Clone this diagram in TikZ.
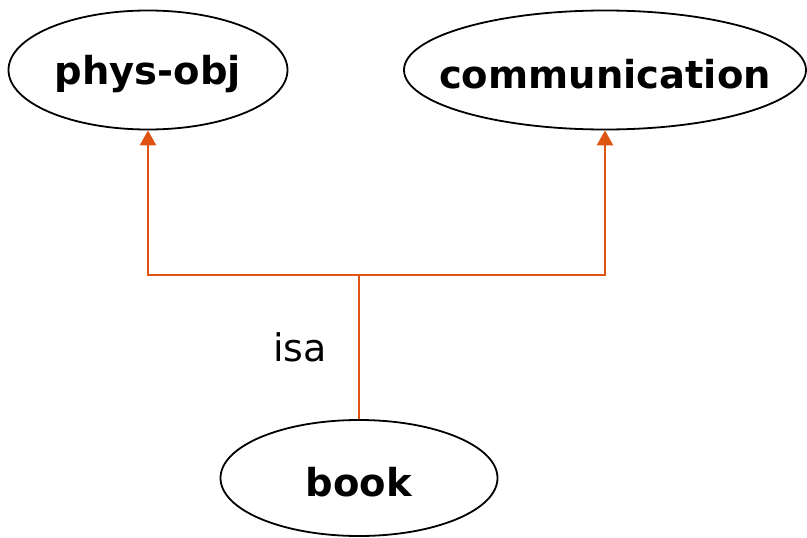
\documentclass[tikz,border=0pt]{standalone}
\usepackage{fontspec}
\setmainfont{DejaVu Sans}
\usetikzlibrary{shapes.geometric,arrows.meta}
\definecolor{conncol}{RGB}{222,84,18}
\newcommand{\ctext}[1]{\makebox[0pt]{\raisebox{-4pt}[\height][\depth]{#1}}}
\begin{document}
\begin{tikzpicture}[x=1pt,y=-1pt,
  concept/.style={draw=black,line width=1.8pt,ellipse,inner sep=0pt,fill=white,
    font=\fontsize{38.5}{40}\selectfont\bfseries},
  conn/.style={draw=conncol,line width=2.6pt},
  tip/.style={-{Triangle[width=16pt,length=15pt]}}]
\useasboundingbox (0,0) rectangle (807,538);
\node[concept,minimum width=279pt,minimum height=119pt] (phys) at (148,70) {\ctext{phys-obj}};
\node[concept,minimum width=402pt,minimum height=119pt] (comm) at (605,70) {\ctext{communication}};
\node[concept,minimum width=277pt,minimum height=116pt] (book) at (359,478) {\ctext{book}};
\coordinate (j) at (359,275);
\draw[conn] (book.north) -- (j);
\draw[conn,tip] (j) -| (phys.south);
\draw[conn,tip] (j) -| (comm.south);
\node[font=\fontsize{38}{40}\selectfont] (isa) at (300,347) {isa};
\end{tikzpicture}
\end{document}
